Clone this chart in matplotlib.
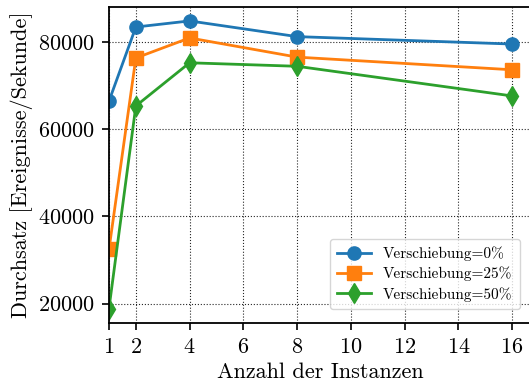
import matplotlib
matplotlib.use("Agg")
from matplotlib import pyplot as plt

instances = [1, 2, 4, 8, 16]
shift_0 = [66400, 83400, 84800, 81200, 79500]
shift_25 = [32400, 76300, 80900, 76500, 73600]
shift_50 = [18850, 65300, 75200, 74400, 67600]
labels = ["Verschiebung=0%", "Verschiebung=25%", "Verschiebung=50%"]
xticks = [1, 2, 4, 6, 8, 10, 12, 14, 16]

plt.rcParams["font.family"] = "serif"
plt.rcParams["font.serif"] = ["cmr10"]
plt.rcParams["mathtext.fontset"] = "cm"
plt.rcParams["axes.formatter.use_mathtext"] = True
plt.rcParams["axes.unicode_minus"] = False

fig = plt.figure(figsize=(5.29, 3.87), dpi=100)
# right edge of the axes runs just off the picture, as in the cropped original
ax = fig.add_axes([0.206, 0.165, 0.800, 0.817])

ax.plot(instances, shift_0, color="#1f77b4", marker="o", markersize=9.5, linewidth=2, label=labels[0])
ax.plot(instances, shift_25, color="#ff7f0e", marker="s", markersize=9.5, linewidth=2, label=labels[1])
ax.plot(instances, shift_50, color="#2ca02c", marker="d", markersize=10, linewidth=2, label=labels[2])

ax.set_xlim(1, 16.75)
ax.set_ylim(15500, 88000)
ax.set_xticks(xticks)
ax.set_yticks([20000, 40000, 60000, 80000])
ax.tick_params(labelsize=16, direction="out", length=5, width=1.2, pad=5)
ax.set_xlabel("Anzahl der Instanzen", fontsize=16, labelpad=4)
ax.set_ylabel("Durchsatz [Ereignisse/Sekunde]", fontsize=16, labelpad=4)
ax.grid(color="black", linestyle=":", linewidth=0.8, alpha=0.85)
for spine in ax.spines.values():
    spine.set_linewidth(1.3)
ax.legend(loc="lower right", fontsize=11, framealpha=0.8, borderpad=0.5,
          handlelength=2.2, labelspacing=0.35, bbox_to_anchor=(0.99, 0.02))

fig.savefig("out.png", dpi=100)
